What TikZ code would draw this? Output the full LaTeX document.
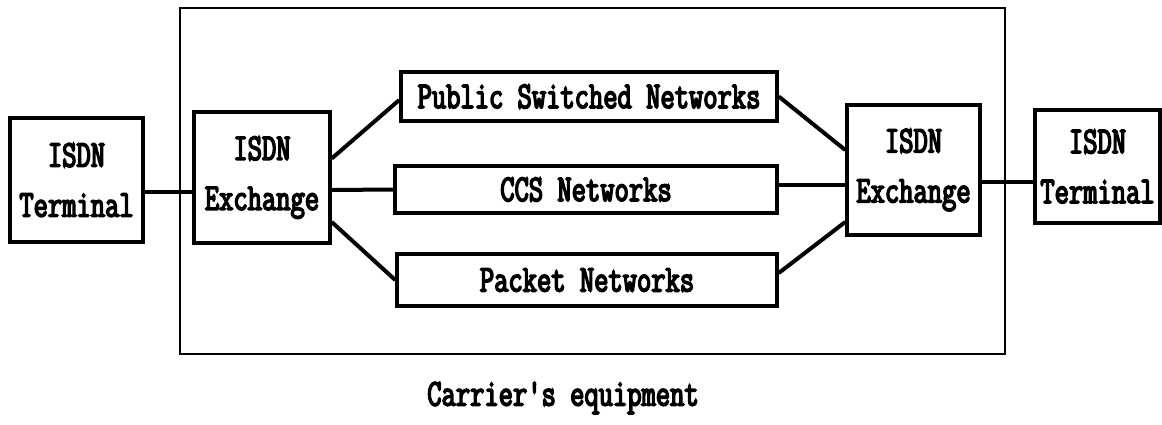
\documentclass[tikz,border=0pt]{standalone}
\usepackage{fontspec}
\newfontfamily\dmfont[FakeStretch=0.73,FakeBold=4]{Latin Modern Mono}
\tikzset{
  box/.style={draw=black, line width=3.5pt, fill=white, inner sep=0pt, align=center,
    font=\dmfont\fontsize{38}{50}\selectfont},
  link/.style={draw=black, line width=4pt},
  frame/.style={draw=black, line width=1.6pt},
  caption/.style={inner sep=0pt, font=\dmfont\fontsize{38}{50}\selectfont}
}
\begin{document}
\begin{tikzpicture}[x=1pt,y=-1pt]
\useasboundingbox (0,0) rectangle (1162,425);
\draw[frame] (180,8) rectangle (1005,354);
\node[box, minimum width=133pt, minimum height=124pt] (tL) at (76.5,180) {ISDN\\Terminal};
\node[box, minimum width=136pt, minimum height=131pt] (eL) at (262,177.5) {ISDN\\Exchange};
\node[box, minimum width=376pt, minimum height=49pt] (ps) at (589,96.5) {Public Switched Networks};
\node[box, minimum width=382pt, minimum height=47pt] (ccs) at (586,189.5) {CCS Networks};
\node[box, minimum width=380pt, minimum height=52pt] (pk) at (587,280) {Packet Networks};
\node[box, minimum width=133pt, minimum height=130pt] (eR) at (913.5,170) {ISDN\\Exchange};
\node[box, minimum width=125pt, minimum height=113pt] (tR) at (1097.5,166.5) {ISDN\\Terminal};
\node[caption] (cap) at (563,398) {Carrier's equipment};
\draw[link] ([yshift=-12pt]tL.east) -- ([yshift=-14.5pt]eL.west);
\draw[link] ([yshift=19pt]eL.east) -- ([yshift=-3.5pt]ps.west);
\draw[link] ([yshift=-12.5pt]eL.east) -- (ccs.west);
\draw[link] ([yshift=-44.5pt]eL.east) -- (pk.west);
\draw[link] (ps.east) -- ([yshift=20pt]eR.west);
\draw[link] ([yshift=4.5pt]ccs.east) -- ([yshift=-15pt]eR.west);
\draw[link] ([yshift=7pt]pk.east) -- ([yshift=-52pt]eR.west);
\draw[link] ([yshift=-12pt]eR.east) -- ([yshift=-15.5pt]tR.west);
\end{tikzpicture}
\end{document}
